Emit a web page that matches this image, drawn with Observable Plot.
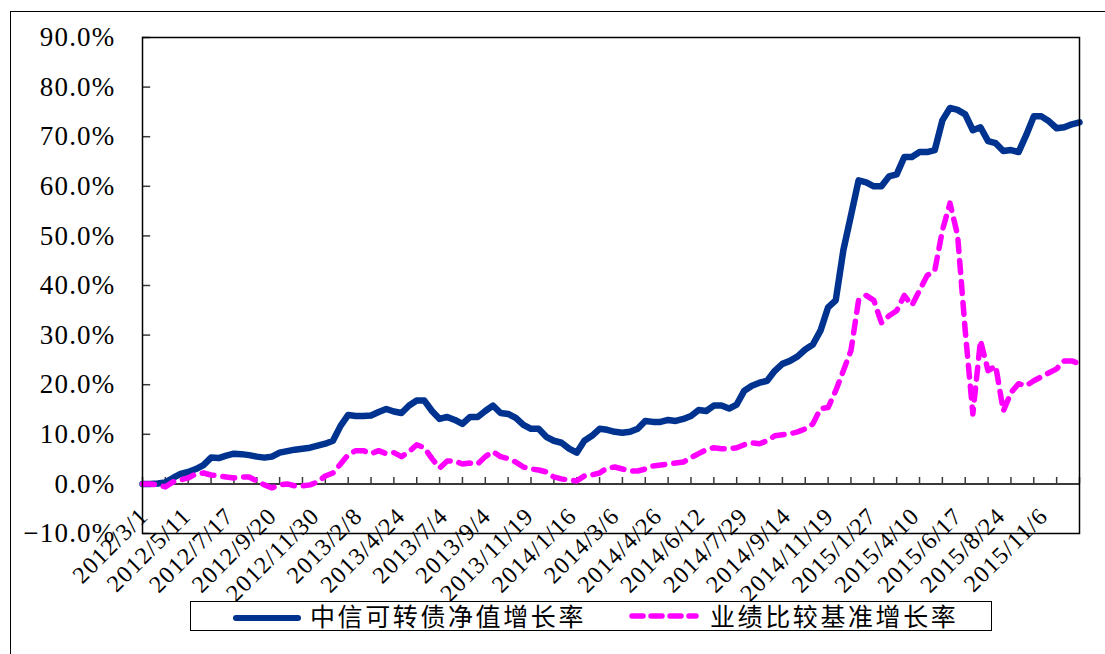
<!DOCTYPE html>
<html><head><meta charset="utf-8">
<script src="https://cdn.jsdelivr.net/npm/d3@7"></script>
<script src="https://cdn.jsdelivr.net/npm/@observablehq/plot@0.6"></script>
<style>
body{margin:0;background:#fff;}
#wrap{position:relative;width:1105px;height:654px;overflow:hidden;background:#fff;}
#outer{position:absolute;left:10px;top:11px;width:1200px;height:700px;border-top:1.5px solid #000;border-left:1.5px solid #000;}
#chart{position:absolute;left:0;top:0;}
#legend{position:absolute;left:190px;top:601px;width:802px;height:30px;border:1.5px solid #000;box-sizing:border-box;background:#fff;font-family:"Noto Sans CJK SC",sans-serif;font-size:25px;letter-spacing:2.6px;color:#000;}
.sw{position:absolute;top:13px;height:0;}
.lab{position:absolute;top:-5px;line-height:36px;white-space:nowrap;}
</style></head>
<body><div id="wrap"><div id="outer"></div><div id="chart"></div>
<div id="legend">
<div class="sw" style="left:42px;width:68px;border-top:6px solid #00338f;border-radius:3px;"></div>
<div class="lab" style="left:119px;">中信可转债净值增长率</div>
<svg class="sw" style="left:438px;top:10px;height:8px;overflow:visible" width="70" height="8"><line x1="3" y1="4" x2="67" y2="4" stroke="#ff00ff" stroke-width="5.5" stroke-linecap="round" stroke-dasharray="11,8"/></svg>
<div class="lab" style="left:519px;">业绩比较基准增长率</div>
</div></div>
<script>
// x = trading-day index of each sample point (every 8 sessions)
const days = d3.range(0, 985, 8);
const fundGrowth = [
0.0,0.0,0.1,0.3,1.2,2.0,2.4,3.0,3.8,5.3,
5.2,5.7,6.1,6.0,5.8,5.5,5.3,5.5,6.3,6.6,
6.9,7.1,7.3,7.7,8.1,8.7,11.7,13.9,13.7,13.7,
13.8,14.5,15.1,14.6,14.3,15.8,16.8,16.8,14.7,13.1,
13.5,12.9,12.1,13.5,13.5,14.7,15.8,14.3,14.1,13.3,
11.9,11.1,11.1,9.5,8.7,8.3,7.1,6.3,8.7,9.7,
11.1,10.9,10.5,10.3,10.5,11.1,12.7,12.5,12.5,12.9,
12.7,13.1,13.7,14.9,14.7,15.8,15.8,15.2,16.0,18.8,
19.8,20.4,20.8,22.8,24.2,24.8,25.7,27.1,28.1,30.9,
35.6,37.0,47.1,54.1,61.2,60.8,60.0,60.0,62.0,62.4,
65.9,65.9,66.9,66.9,67.3,73.3,75.8,75.4,74.5,71.3,
71.9,69.1,68.7,67.1,67.3,66.9,70.3,74.1,74.1,73.1,
71.7,71.9,72.5,72.9];
const benchGrowth = [
0.0,0.0,-0.2,-0.6,0.4,0.8,1.2,2.0,2.2,1.8,
1.6,1.4,1.2,1.4,1.4,0.6,-0.2,-0.8,-0.2,0.0,
-0.4,-0.4,-0.2,0.4,1.6,2.2,4.0,5.9,6.7,6.7,
6.1,6.7,6.1,6.3,5.5,6.5,7.9,7.3,5.1,3.2,
4.6,4.6,4.0,4.2,4.0,5.5,6.5,5.5,5.1,4.4,
3.4,3.0,2.8,2.4,1.4,1.0,0.8,0.6,1.6,1.8,
2.2,3.2,3.4,3.0,2.6,2.6,3.0,3.6,3.8,4.0,
4.2,4.4,5.3,6.1,6.9,7.3,7.1,7.1,7.3,7.9,
8.3,8.1,8.7,9.7,9.9,10.1,10.5,11.1,12.1,15.2,
15.4,18.8,22.8,26.9,37.0,38.0,37.0,32.5,33.9,34.9,
38.0,36.0,39.0,42.0,43.0,51.1,56.6,50.1,30.9,14.1,
28.9,22.8,23.8,14.7,18.4,20.2,19.8,20.8,21.6,22.4,
23.2,24.8,24.8,24.2];
const dateLabels = ["2012/3/1","2012/5/11","2012/7/17","2012/9/20","2012/11/30","2013/2/8","2013/4/24","2013/7/4","2013/9/4","2013/11/19","2014/1/16","2014/3/6","2014/4/26","2014/6/12","2014/7/29","2014/9/14","2014/11/19","2015/1/27","2015/4/10","2015/6/17","2015/8/24","2015/11/6"];
const labelDays = dateLabels.map((_, i) => i * 45);
const tickDays = d3.range(0, 985, 24);
const yTicks = [-10,0,10,20,30,40,50,60,70,80,90];
const yTickLabels = ["−10.0%","0.0%","10.0%","20.0%","30.0%","40.0%","50.0%","60.0%","70.0%","80.0%","90.0%"];

const data = days.map((d, i) => ({d, fund: fundGrowth[i], bench: benchGrowth[i]}));

const chart = Plot.plot({
  width: 1105, height: 600,
  marginLeft: 142, marginRight: 26, marginTop: 37, marginBottom: 67,
  x: {domain: [0, 984], axis: null},
  y: {domain: [-10, 90], axis: null},
  style: {background: "transparent", overflow: "visible"},
  marks: [
    Plot.ruleY([0], {stroke: "#3a3a3a", strokeWidth: 2}),
    Plot.ruleX(tickDays, {x: d => d, y1: 0, y2: 1.3, stroke: "#3a3a3a", strokeWidth: 1.5}),
    Plot.ruleY(yTicks, {y: d => d, x1: 0, x2: 8.6, stroke: "#3a3a3a", strokeWidth: 1.5}),
    Plot.line(data, {x: "d", y: "fund", stroke: "#00338f", strokeWidth: 6.5, strokeLinejoin: "round", strokeLinecap: "round"}),
    Plot.line(data, {x: "d", y: "bench", stroke: "#ff00ff", strokeWidth: 5.5, strokeDasharray: "12,9", strokeLinecap: "round", strokeLinejoin: "round"}),
    Plot.frame({stroke: "#000", strokeWidth: 1.5}),
    Plot.text(yTicks, {y: d => d, frameAnchor: "left", text: (d, i) => yTickLabels[i], textAnchor: "end", dx: -27, fontSize: 27, fontFamily: "Liberation Serif", fill: "#000"}),
    Plot.text(labelDays, {x: d => d, frameAnchor: "bottom", text: (d, i) => dateLabels[i], rotate: -45, textAnchor: "end", dx: 7, dy: -16, fontSize: 24, fontFamily: "Liberation Serif", fill: "#000"})
  ]
});
// slightly wider glyph spacing, like the original's half-width digits
chart.querySelectorAll("g[aria-label='text'] text").forEach(t => t.setAttribute("letter-spacing", "1.2"));
document.getElementById("chart").appendChild(chart);
</script></body></html>
